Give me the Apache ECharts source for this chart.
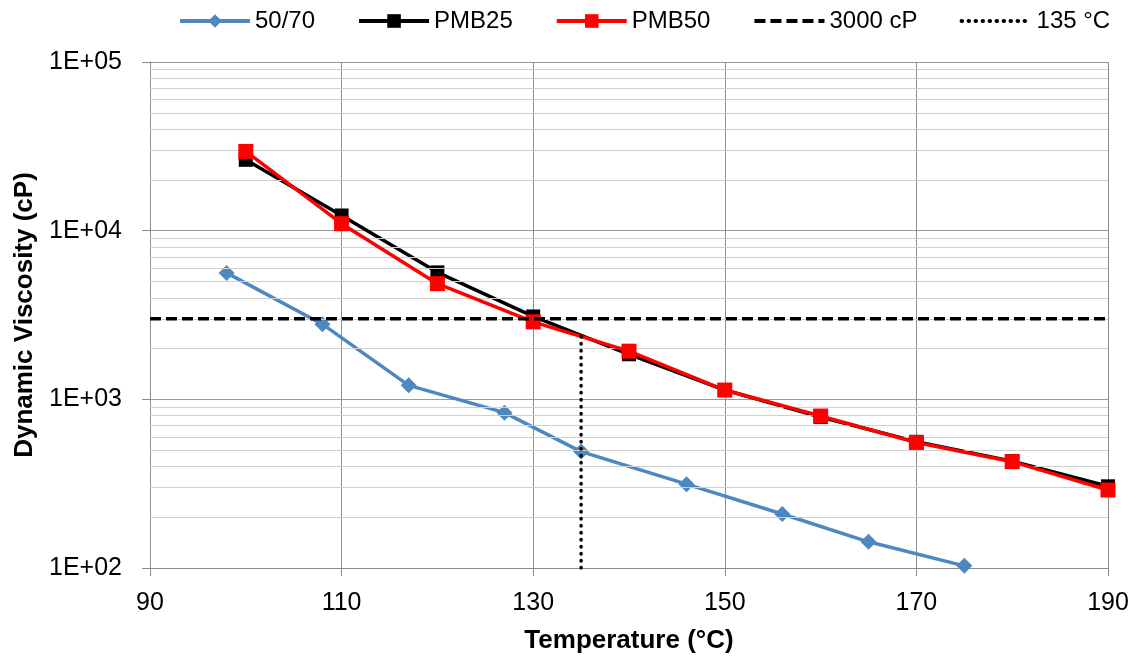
<!DOCTYPE html>
<html>
<head>
<meta charset="utf-8">
<script src="https://cdn.jsdelivr.net/npm/echarts@6/dist/echarts.min.js"></script>
<style>
  html, body { margin: 0; padding: 0; background: #fff; }
  #chart { width: 1137px; height: 659px; }
</style>
</head>
<body>
<div id="chart"></div>
<script>
// Dynamic viscosity of binders versus temperature
const temps5070 = [98, 108, 117, 127, 135, 146, 156, 165, 175];
const visc5070  = [5620, 2790, 1210, 834, 490, 314, 209, 143, 103];

const tempsPMB = [100, 110, 120, 130, 140, 150, 160, 170, 180, 190];
const viscPMB25 = [26300, 12300, 5660, 3100, 1850, 1135, 785, 560, 430, 305];
const viscPMB50 = [29500, 11000, 4850, 2880, 1930, 1135, 796, 555, 427, 290];

// Reference lines: 3000 cP threshold and the 135 °C temperature
const refViscosity = 3000;
const refTempRange = [90, 190];
const refTemp = 135;
const refTempViscRange = [100, 2500];

// Minor grid lines inside each decade of the log axis
const minorGridValues = [];
[100, 1000, 10000].forEach(d => {
  for (let k = 2; k <= 9; k++) minorGridValues.push(d * k);
});

const FONT = '"Liberation Sans", Arial, sans-serif';
const zip = (xs, ys) => xs.map((x, i) => [x, ys[i]]);
const LEGEND_LINE = { width: 4 };

const chart = echarts.init(document.getElementById('chart'));
chart.setOption({
  animation: false,
  backgroundColor: '#ffffff',
  textStyle: { fontFamily: FONT },
  legend: {
    top: 4,
    left: 173,
    itemWidth: 70,
    itemHeight: 17,
    itemGap: 42,
    textStyle: { fontFamily: FONT, fontSize: 24, color: '#000' },
    data: [
      { name: '50/70', lineStyle: LEGEND_LINE },
      { name: 'PMB25', lineStyle: LEGEND_LINE },
      { name: 'PMB50', lineStyle: LEGEND_LINE },
      { name: '3000 cP', lineStyle: LEGEND_LINE, itemStyle: { opacity: 0 } },
      { name: '135 °C', lineStyle: LEGEND_LINE, itemStyle: { opacity: 0 } }
    ]
  },
  grid: { left: 150, right: 29, top: 62, bottom: 90 },
  xAxis: {
    type: 'value',
    min: 90,
    max: 190,
    interval: 20,
    name: 'Temperature (°C)',
    nameLocation: 'middle',
    nameGap: 60,
    nameTextStyle: { fontFamily: FONT, fontSize: 26, fontWeight: 'bold', color: '#000' },
    axisLine: { show: true, lineStyle: { color: '#8c8c8c', width: 1 } },
    axisTick: { show: true, length: 8, inside: false, lineStyle: { color: '#8c8c8c' } },
    axisLabel: { fontFamily: FONT, fontSize: 25, color: '#000', margin: 23 },
    splitLine: { show: true, lineStyle: { color: '#8c8c8c', width: 1 } }
  },
  yAxis: {
    type: 'log',
    logBase: 10,
    min: 100,
    max: 100000,
    name: 'Dynamic Viscosity (cP)',
    nameLocation: 'middle',
    nameGap: 108,
    nameTextStyle: { fontFamily: FONT, fontSize: 26, fontWeight: 'bold', color: '#000' },
    axisLine: { show: true, lineStyle: { color: '#8c8c8c', width: 1 } },
    axisTick: { show: true, length: 8, lineStyle: { color: '#8c8c8c' } },
    axisLabel: {
      fontFamily: FONT, fontSize: 25, color: '#000', margin: 28,
      formatter: v => '1E+0' + Math.round(Math.log10(v))
    },
    splitLine: { show: true, lineStyle: { color: '#9a9a9a', width: 1 } }
  },
  series: [
    {
      name: 'minor-grid',
      type: 'line',
      data: [],
      silent: true,
      z: 1,
      markLine: {
        silent: true,
        symbol: 'none',
        label: { show: false },
        lineStyle: { color: '#cfcfcf', width: 1, type: 'solid' },
        data: minorGridValues.map(v => ({ yAxis: v }))
      }
    },
    {
      name: '50/70',
      type: 'line',
      data: zip(temps5070, visc5070),
      symbol: 'diamond',
      symbolSize: 16,
      z: 3,
      color: '#4f88c0',
      lineStyle: { color: '#4f88c0', width: 3.5 },
      itemStyle: { color: '#4f88c0' }
    },
    {
      name: 'PMB25',
      type: 'line',
      data: zip(tempsPMB, viscPMB25),
      symbol: 'rect',
      symbolSize: 14,
      z: 4,
      color: '#000000',
      lineStyle: { color: '#000000', width: 3.5 },
      itemStyle: { color: '#000000' }
    },
    {
      name: 'PMB50',
      type: 'line',
      data: zip(tempsPMB, viscPMB50),
      symbol: 'rect',
      symbolSize: 15,
      z: 5,
      color: '#ff0000',
      lineStyle: { color: '#ff0000', width: 3.5 },
      itemStyle: { color: '#ff0000' }
    },
    {
      name: '3000 cP',
      type: 'line',
      data: refTempRange.map(t => [t, refViscosity]),
      symbol: 'none',
      z: 6,
      color: '#000000',
      lineStyle: { color: '#000000', width: 3.5, type: [11, 5] }
    },
    {
      name: '135 °C',
      type: 'line',
      data: refTempViscRange.map(v => [refTemp, v]),
      symbol: 'none',
      z: 6,
      color: '#000000',
      lineStyle: { color: '#000000', width: 3.5, type: [0.5, 6.5], cap: 'round' }
    }
  ]
});
</script>
</body>
</html>
